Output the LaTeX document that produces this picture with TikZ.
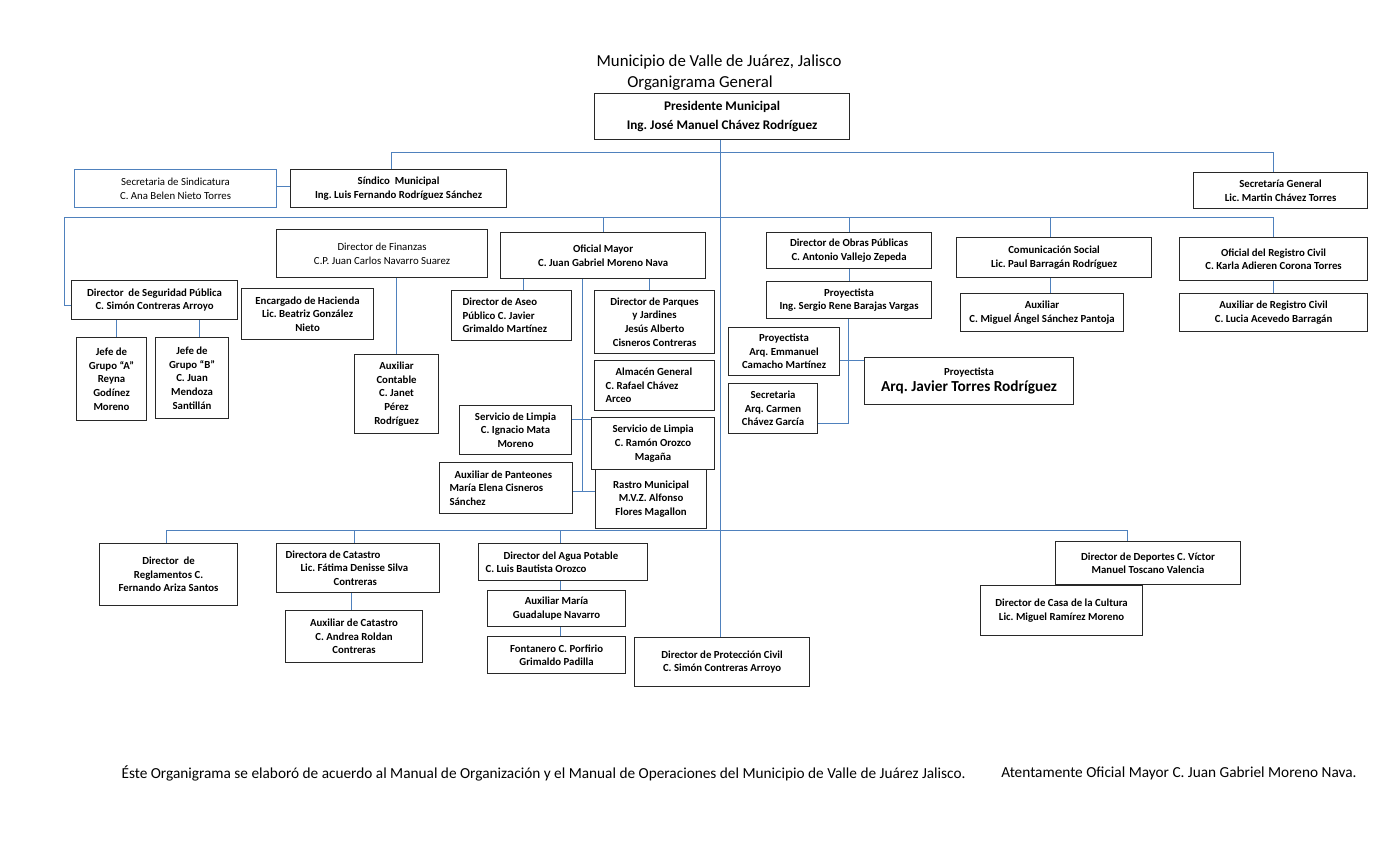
\documentclass[tikz,border=0pt]{standalone}
\usepackage{fontspec}
\setmainfont{Carlito}
\usetikzlibrary{calc}
\definecolor{linec}{RGB}{79,129,189}
\definecolor{boxc}{RGB}{40,40,40}
\newcommand\mybox[7][]{\node[box,minimum width={#5-#3},minimum height={#6-#4},#1] (#2) at (#3,#4) {#7};}
\begin{document}
\frenchspacing
\begin{tikzpicture}[x=1pt,y=-1pt,
  box/.style={draw=boxc,line width=1.1pt,fill=white,anchor=north west,inner sep=2pt,align=center,font=\fontsize{10.8}{13.6}\selectfont\bfseries\frenchspacing},
  regtext/.style={font=\fontsize{10.8}{13.6}\selectfont\frenchspacing},
  lt/.style={align=flush left,inner xsep=#1},
  conn/.style={draw=linec,line width=0.9pt},
  title/.style={font=\fontsize{16.8}{18}\selectfont},
  foot/.style={font=\fontsize{15.3}{16}\selectfont\frenchspacing}]
\useasboundingbox[fill=white] (0,0) rectangle (1400,850);

% titles
\node[title] (t1) at (719,62) {Municipio de Valle de Juárez, Jalisco};
\node[title] (t2) at (700,83) {Organigrama General};

% boxes
\mybox[font=\fontsize{13.2}{19}\selectfont\bfseries\frenchspacing]{pres}{594}{93}{849}{139}{Presidente Municipal\\Ing. José Manuel Chávez Rodríguez}
\mybox[regtext,draw=linec]{secsind}{74}{169}{276}{207}{Secretaria de Sindicatura\\C. Ana Belen Nieto Torres}
\mybox{sind}{290}{169}{506}{207}{Síndico\ \ Municipal\\Ing. Luis Fernando Rodríguez Sánchez}
\mybox{sg}{1193}{172}{1367}{208}{Secretaría General\\Lic. Martin Chávez Torres}

\mybox{seg}{71}{280}{237}{319}{Director\ \ de Seguridad Pública\\C. Simón Contreras Arroyo}
\mybox{ja}{76}{337}{146}{420}{Jefe de\\Grupo “A”\\Reyna\\Godínez\\Moreno}
\mybox{jb}{155}{337}{228}{418}{Jefe de\\Grupo “B”\\C. Juan\\Mendoza\\Santillán}
\mybox[regtext]{fin}{276}{229}{487}{277}{Director de Finanzas\\C.P. Juan Carlos Navarro Suarez}
\mybox{hac}{241}{288}{373}{339}{Encargado de Hacienda\\Lic. Beatriz González\\Nieto}
\mybox{ac}{354}{354}{438}{433}{Auxiliar\\Contable\\C. Janet\\Pérez\\Rodríguez}

\mybox{om}{500}{232}{705}{278}{Oficial Mayor\\C. Juan Gabriel Moreno Nava}
\mybox[lt=11pt,text width=98pt]{aseo}{451}{290}{571}{340}{Director de Aseo\\Público C. Javier\\Grimaldo Martínez}
\mybox{parq}{594}{290}{714}{353}{Director de Parques\\y Jardines\\Jesús Alberto\\Cisneros Contreras}
\mybox[lt=11pt,text width=98pt]{alm}{594}{360}{714}{410}{\hspace*{10pt}Almacén General\\C. Rafael Chávez\\Arceo}
\mybox{lim1}{459}{405}{571}{454}{Servicio de Limpia\\C. Ignacio Mata\\Moreno}
\mybox{lim2}{591}{417}{714}{469}{Servicio de Limpia\\C. Ramón Orozco\\Magaña}
\mybox[lt=10pt,text width=113pt]{pant}{439}{462}{572}{513}{\hspace*{5pt}Auxiliar de Panteones\\María Elena Cisneros\\Sánchez}
\mybox{rastro}{595}{469}{706}{528}{Rastro Municipal\\M.V.Z. Alfonso\\Flores Magallon}

\mybox{obras}{766}{232}{931}{268}{Director de Obras Públicas\\C. Antonio Vallejo Zepeda}
\mybox{serg}{766}{281}{931}{318}{Proyectista\\Ing. Sergio Rene Barajas Vargas}
\mybox{emm}{728}{327}{839}{375}{Proyectista\\Arq. Emmanuel\\Camacho Martínez}
\mybox{sec}{728}{383}{817}{433}{Secretaria\\Arq. Carmen\\Chávez García}
\mybox[font=\fontsize{10.8}{16}\selectfont\bfseries\frenchspacing]{jav}{864}{357}{1073}{404}{Proyectista\\{\fontsize{15.3}{17}\selectfont Arq. Javier Torres Rodríguez}}

\mybox{cs}{956}{237}{1151}{277}{Comunicación Social\\Lic. Paul Barragán Rodríguez}
\mybox{aux}{960}{293}{1123}{331}{Auxiliar\\C. Miguel Ángel Sánchez Pantoja}
\mybox{rc}{1179}{237}{1367}{280}{Oficial del Registro Civil\\C. Karla Adieren Corona Torres}
\mybox{arc}{1179}{293}{1367}{331}{Auxiliar de Registro Civil\\C. Lucia Acevedo Barragán}

\mybox{regl}{99}{543}{237}{605}{Director\ \ de\\Reglamentos C.\\Fernando Ariza Santos}
\mybox[lt=9pt,text width=145pt]{cat}{276}{543}{439}{592}{Directora de Catastro\\\hspace*{15pt}Lic. Fátima Denisse Silva\\\hspace*{48pt}Contreras}
\mybox{acat}{285}{610}{422}{662}{Auxiliar de Catastro\\C. Andrea Roldan\\Contreras}
\mybox[lt=7pt,text width=155pt]{agua}{478}{543}{647}{580}{\hspace*{18pt}Director del Agua Potable\\C. Luis Bautista Orozco}
\mybox{auxm}{487}{590}{625}{626}{Auxiliar María\\Guadalupe Navarro}
\mybox{font}{487}{636}{625}{673}{Fontanero C. Porfirio\\Grimaldo Padilla}
\mybox{pc}{634}{637}{809}{686}{Director de Protección Civil\\C. Simón Contreras Arroyo}
\mybox{dep}{1055}{541}{1240}{584}{Director de Deportes C. Víctor\\Manuel Toscano Valencia}
\mybox{casa}{980}{585}{1142}{635}{Director de Casa de la Cultura\\Lic. Miguel Ramírez Moreno}

% coordinates
\coordinate (cx) at (720,0);
\coordinate (d1) at (391,152);
\coordinate (d2) at (1273,152);
\coordinate (l2a) at (64,217);
\coordinate (l2b) at (1273,217);
\coordinate (l2c) at (64,305);
\coordinate (x116) at (116,0);
\coordinate (x199) at (199,0);
\coordinate (xa) at (523,0);
\coordinate (xp) at (649,0);
\coordinate (ob) at (582,491);
\coordinate (ol) at (582,419);
\coordinate (os) at (848,423);
\coordinate (oe) at (848,360);
\coordinate (l3a) at (166,530);
\coordinate (l3b) at (1127,530);
\coordinate (xc) at (354,0);
\coordinate (xcc) at (351,0);
\coordinate (xg) at (560,0);
\coordinate (xcs) at (1050,0);

% connectors
\draw[conn] (cx |- pres.south) -- (cx |- pc.north);
\draw[conn] (d1 |- sind.north) -- (d1) -- (d2) -- (d2 |- sg.north);
\draw[conn] (secsind.east |- 0,186) -- (sind.west |- 0,186);
\draw[conn] (l2c -| seg.west) -- (l2c) -- (l2a) -- (l2b) -- (l2b |- rc.north);
\draw[conn] (om.north) -- (om.north |- l2a);
\draw[conn] (obras.north) -- (obras.north |- l2a);
\draw[conn] (xcs |- cs.north) -- (xcs |- l2a);
\draw[conn] (x116 |- seg.south) -- (x116 |- ja.north);
\draw[conn] (x199 |- seg.south) -- (x199 |- jb.north);
\draw[conn] (ac.north |- fin.south) -- (ac.north);
\draw[conn] (xa |- om.south) -- (xa |- aseo.north);
\draw[conn] (xp |- om.south) -- (xp |- parq.north);
\draw[conn] (ob |- om.south) -- (ob);
\draw[conn] (pant.east |- ob) -- (rastro.west |- ob);
\draw[conn] (lim1.east |- ol) -- (lim2.west |- ol);
\draw[conn] (obras.south) -- (serg.north);
\draw[conn] (os |- serg.south) -- (os) -- (sec.east |- os);
\draw[conn] (emm.east |- oe) -- (jav.west |- oe);
\draw[conn] (xcs |- cs.south) -- (xcs |- aux.north);
\draw[conn] (rc.south) -- (arc.north);
\draw[conn] (l3a |- regl.north) -- (l3a) -- (l3b) -- (l3b |- dep.north);
\draw[conn] (xc |- l3a) -- (xc |- cat.north);
\draw[conn] (xg |- l3a) -- (xg |- agua.north);
\draw[conn] (xcc |- cat.south) -- (xcc |- acat.north);
\draw[conn] (xg |- agua.south) -- (xg |- auxm.north);
\draw[conn] (xg |- auxm.south) -- (xg |- font.north);

% footer
\node[foot,anchor=west] (f1) at (118,773) {Éste Organigrama se elaboró de acuerdo al Manual de Organización y el Manual de Operaciones del Municipio de Valle de Juárez Jalisco.};
\node[foot,anchor=east] (f2) at (1360,773) {Atentamente Oficial Mayor C. Juan Gabriel Moreno Nava.};
\end{tikzpicture}
\end{document}
